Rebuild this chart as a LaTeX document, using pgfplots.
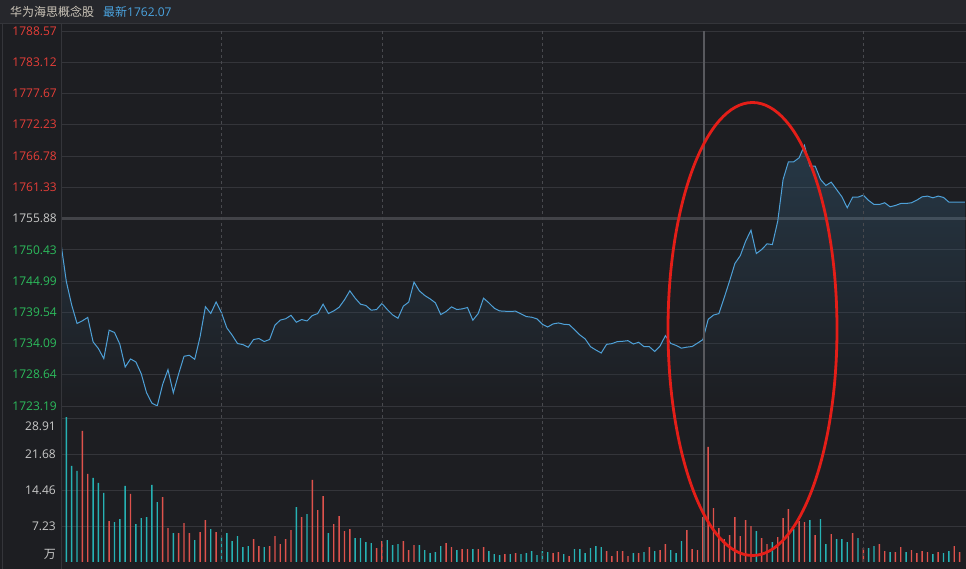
\documentclass[border=0pt]{standalone}
\usepackage{fontspec}
\setmainfont{Open Sans}
\newfontfamily\cjk{Noto Sans CJK SC}
\usepackage{pgfplots}
\usepackage{pgfplotstable}
\pgfplotsset{compat=1.18}
\definecolor{bg}{RGB}{29,30,34}
\definecolor{hdr}{RGB}{38,39,44}
\definecolor{gridc}{RGB}{52,53,58}
\definecolor{thickgrid}{RGB}{66,67,72}
\definecolor{vgrid}{RGB}{72,73,78}
\definecolor{midline}{RGB}{88,89,94}
\definecolor{labred}{RGB}{230,62,56}
\definecolor{labgreen}{RGB}{44,188,92}
\definecolor{labgray}{RGB}{200,200,200}
\definecolor{titlec}{RGB}{205,198,186}
\definecolor{bluet}{RGB}{74,163,223}
\definecolor{linec}{RGB}{78,160,215}
\definecolor{volred}{RGB}{222,82,76}
\definecolor{volteal}{RGB}{38,178,180}
\definecolor{ellc}{RGB}{228,30,24}
\pgfplotstableread{
x y
-1 1751.48
0 1744.88
1 1740.79
2 1737.58
3 1738.05
4 1738.63
5 1734.37
6 1733.20
7 1731.45
8 1736.41
9 1736.01
10 1733.96
11 1729.99
12 1731.39
13 1730.87
14 1728.82
15 1725.49
16 1723.68
17 1723.20
18 1726.95
19 1729.52
20 1725.49
21 1728.82
22 1731.86
23 1732.03
24 1731.33
25 1735.25
26 1740.50
27 1739.33
28 1741.32
29 1739.45
30 1736.82
31 1735.54
32 1734.08
33 1733.90
34 1733.43
35 1734.78
36 1734.95
37 1734.43
38 1734.78
39 1737.29
40 1738.17
41 1738.40
42 1739.00
43 1737.79
44 1738.26
45 1738.02
46 1738.96
47 1739.31
48 1740.94
49 1739.31
50 1739.77
51 1740.41
52 1741.70
53 1743.27
54 1741.99
55 1740.94
56 1740.71
57 1739.89
58 1740.01
59 1741.06
60 1740.01
61 1739.07
62 1738.49
63 1740.59
64 1741.29
65 1744.79
66 1743.27
67 1742.46
68 1741.87
69 1741.17
70 1739.13
71 1739.66
72 1740.47
73 1740.01
74 1740.12
75 1740.36
76 1738.14
77 1739.31
78 1741.99
79 1741.17
80 1740.24
81 1739.77
82 1739.71
83 1739.69
84 1739.72
85 1739.25
86 1738.78
87 1738.67
88 1738.37
89 1737.44
90 1736.97
91 1737.50
92 1737.67
93 1737.44
94 1737.38
95 1736.51
96 1735.58
97 1734.88
98 1733.53
99 1732.95
100 1732.43
101 1733.94
102 1734.06
103 1734.41
104 1734.47
105 1734.58
106 1734.00
107 1734.30
108 1733.53
109 1733.53
110 1732.70
111 1733.65
112 1735.45
113 1734.10
114 1733.75
115 1733.27
116 1733.45
117 1733.56
118 1734.15
119 1734.76
120 1738.30
121 1739.05
122 1739.30
123 1742.10
124 1745.00
125 1748.05
126 1749.40
127 1751.92
128 1753.84
129 1749.77
130 1750.47
131 1751.46
132 1751.34
133 1755.41
134 1762.69
135 1765.77
136 1765.77
137 1766.47
138 1768.63
139 1765.02
140 1765.02
141 1762.69
142 1761.64
143 1762.22
144 1760.94
145 1759.66
146 1757.74
147 1759.60
148 1759.60
149 1759.95
150 1759.02
151 1758.32
152 1758.32
153 1758.62
154 1757.92
155 1758.15
156 1758.50
157 1758.50
158 1758.62
159 1759.08
160 1759.66
161 1759.78
162 1759.49
163 1759.78
164 1759.55
165 1758.73
166 1758.73
167 1758.73
168 1758.73
}\pricetable
\begin{document}
\begin{tikzpicture}
\useasboundingbox (0bp,0bp) rectangle (966bp,569bp);
\fill[bg] (0bp,0bp) rectangle (966bp,569bp);
\fill[hdr] (0bp,546bp) rectangle (966bp,569bp);
\draw[color=gridc, line width=0.8bp] (0bp,546bp) -- (966bp,546bp);
\draw[color=gridc, line width=1bp] (2.5bp,0bp) -- (2.5bp,546bp);
\node[anchor=base west, inner sep=0pt, text=titlec, font=\cjk\fontsize{12bp}{14bp}\selectfont] at (10bp,552bp) {华为海思概念股};
\node[anchor=base west, inner sep=0pt, text=bluet, font=\fontsize{12bp}{14bp}\selectfont] at (103bp,552bp) {{\cjk 最新}1762.07};

\begin{axis}[
  at={(61bp,163bp)}, anchor=south west, scale only axis,
  width=905bp, height=375bp,
  xmin=-1, xmax=168.2, ymin=1723.19, ymax=1788.57,
  axis line style={draw=none}, major tick length=0pt,
  xtick=\empty,
  ytick={1723.19,1728.64,1734.09,1739.54,1744.99,1750.43,1761.33,1766.78,1772.23,1777.67,1783.12,1788.57},
  yticklabels={\textcolor{labgreen}{1723.19},\textcolor{labgreen}{1728.64},\textcolor{labgreen}{1734.09},\textcolor{labgreen}{1739.54},\textcolor{labgreen}{1744.99},\textcolor{labgreen}{1750.43},\textcolor{labred}{1761.33},\textcolor{labred}{1766.78},\textcolor{labred}{1772.23},\textcolor{labred}{1777.67},\textcolor{labred}{1783.12},\textcolor{labred}{1788.57}},
  extra y ticks={1755.88},
  extra y tick labels={\textcolor{labgray}{1755.88}},
  extra y tick style={grid style={color=thickgrid, line width=2.6bp}},
  ymajorgrids, grid style={color=gridc, line width=0.9bp},
  yticklabel style={anchor=east, inner sep=0pt, xshift=-4bp, font=\fontsize{12bp}{14bp}\selectfont},
]
\addplot[draw=none, top color=linec, bottom color=bg, fill opacity=0.2, forget plot] table {\pricetable} \closedcycle;
\addplot[color=linec, line width=1bp, forget plot] table {\pricetable};
\end{axis}

\begin{axis}[
  at={(61bp,7bp)}, anchor=south west, scale only axis,
  width=905bp, height=144bp,
  xmin=-1, xmax=168.2, ymin=0, ymax=28.91,
  axis line style={draw=none}, major tick length=0pt,
  xtick=\empty,
  ytick={7.23,14.46,21.68,28.91},
  yticklabels={\textcolor{labgray}{7.23},\textcolor{labgray}{14.46},\textcolor{labgray}{21.68},{}},
  ymajorgrids, grid style={color=gridc, line width=0.9bp},
  yticklabel style={anchor=east, inner sep=0pt, xshift=-5bp, font=\fontsize{12bp}{14bp}\selectfont},
]
\addplot[ybar, bar width=1.4bp, bar shift=0pt, fill=white, draw=none, forget plot] coordinates {(-0.9,20.1)};
\addplot[ybar, bar width=1.4bp, bar shift=0pt, fill=volred, draw=none, forget plot] coordinates {
(3,26.3)(4,17.7)(8,8.2)(12,13.7)(18,13.0)(19,6.8)(21,5.8)(22,7.8)(23,5.8)(25,6.0)
(26,8.4)(28,6.0)(35,4.6)(36,3.2)(38,3.2)(39,5.2)(40,3.6)(41,4.6)(42,6.4)(44,9.0)
(46,16.5)(47,10.4)(48,13.2)(50,7.6)(51,9.2)(52,6.2)(53,6.6)(58,2.8)(59,4.2)(63,4.2)
(64,2.4)(65,3.4)(71,3.8)(72,3.0)(74,2.6)(75,2.6)(77,2.6)(78,3.0)(82,1.6)(84,1.8)
(91,1.8)(92,2.0)(94,1.2)(101,2.2)(102,1.2)(103,2.2)(104,2.2)(105,1.2)(107,1.8)(109,3.0)
(111,2.4)(112,3.6)(116,6.4)(117,2.6)(118,2.4)(119,9.0)(120,23.1)(121,10.8)(122,6.8)(123,4.6)
(124,5.4)(125,9.0)(126,5.2)(127,8.4)(128,7.2)(130,4.8)(131,3.6)(133,5.0)(134,8.8)(135,10.6)
(137,8.2)(138,8.0)(140,5.4)(143,5.6)(147,5.8)(149,2.8)(152,3.6)(153,2.2)(155,2.0)(156,3.0)
(158,2.4)(159,1.8)(160,2.2)(161,2.0)(163,2.0)(166,3.2)(167,2.0)
};
\addplot[ybar, bar width=1.4bp, bar shift=0pt, fill=volteal, draw=none, forget plot] coordinates {
(0,30.0)(1,19.3)(2,18.3)(5,16.9)(6,15.9)(7,13.9)(9,8.0)(10,8.6)(11,15.3)(13,7.6)
(14,8.8)(15,9.0)(16,15.5)(17,12.0)(20,5.8)(24,4.4)(27,6.6)(29,5.0)(30,5.8)(31,4.2)
(32,5.2)(33,3.0)(34,3.2)(37,3.0)(43,11.0)(45,9.6)(49,5.8)(54,4.8)(55,4.8)(56,4.0)
(57,3.8)(60,4.4)(61,3.4)(62,3.6)(66,3.4)(67,2.4)(68,1.8)(69,2.0)(70,3.2)(73,2.4)
(76,2.6)(79,2.2)(80,1.6)(81,1.4)(83,1.6)(85,1.6)(86,1.8)(87,2.2)(88,1.4)(89,2.2)
(90,2.0)(93,1.6)(95,2.6)(96,2.6)(97,1.8)(98,2.8)(99,3.2)(100,3.0)(106,1.8)(108,2.0)
(110,2.2)(113,2.4)(114,1.8)(115,4.2)(129,6.2)(132,4.0)(136,6.6)(139,8.4)(141,8.6)(142,3.6)
(144,4.6)(145,4.6)(146,4.0)(148,4.8)(150,2.8)(151,3.2)(154,2.0)(157,2.0)(162,1.6)(164,1.8)
(165,2.2)
};
\end{axis}
% vertical time grid
\foreach \xx in {221.5,382,542.5,863.5}{
  \draw[color=vgrid, line width=0.9bp, dash pattern=on 3bp off 3bp] (\xx bp,7bp) -- (\xx bp,538bp);
}
\draw[color=midline, line width=2bp] (703.5bp,7bp) -- (703.5bp,538bp);
\draw[color=gridc, line width=1bp] (61bp,0bp) -- (61bp,546bp);
\node[anchor=east, inner sep=0pt, text=labgray, font=\fontsize{12bp}{14bp}\selectfont] at (56bp,143bp) {28.91};
\node[anchor=east, inner sep=0pt, text=labgray, font=\cjk\fontsize{12bp}{14bp}\selectfont] at (56bp,15bp) {万};
\draw[color=ellc, line width=2.8bp] (752.5bp,240bp) ellipse [x radius=84.5bp, y radius=226.5bp];
\end{tikzpicture}
\end{document}
